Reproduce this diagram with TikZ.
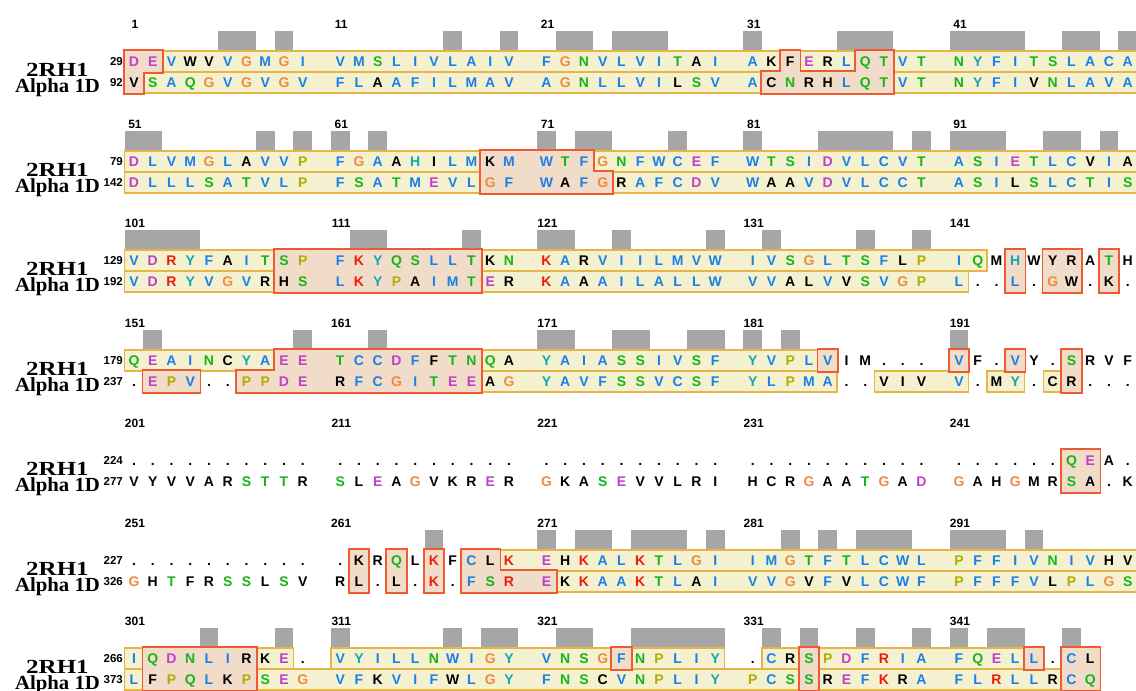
\documentclass[tikz,border=0pt]{standalone}
\usepackage{fontspec}
\setmainfont{Liberation Serif}
\setsansfont{Liberation Sans}
\definecolor{cb}{HTML}{1A7FE8}
\definecolor{cr}{HTML}{F01A0A}
\definecolor{cg}{HTML}{18B418}
\definecolor{cm}{HTML}{C040C8}
\definecolor{co}{HTML}{F08A40}
\definecolor{cy}{HTML}{B4AC00}
\definecolor{cc}{HTML}{14A8B0}
\definecolor{ck}{HTML}{000000}
\definecolor{yfill}{HTML}{F3F1CF}
\definecolor{yline}{HTML}{E8B446}
\definecolor{rfill}{HTML}{F0DCC8}
\definecolor{rline}{HTML}{F05A30}
\definecolor{barg}{HTML}{A6A6A6}
\pgfmathdeclarefunction{slotx}{1}{\pgfmathparse{134+18.75*((#1-1)+floor((#1-1)/10))}}
\tikzset{
  res/.style={inner sep=0pt,text height=10pt,text depth=0pt,font=\sffamily\bfseries\fontsize{14}{14}\selectfont},
  numlab/.style={inner sep=0pt,font=\sffamily\bfseries\fontsize{12}{12}\selectfont},
  startnum/.style={inner sep=0pt,anchor=east,text height=8pt,text depth=0pt,font=\sffamily\bfseries\fontsize{11.5}{11.5}\selectfont},
  namelab/.style={inner sep=0pt,anchor=base,align=center,font=\rmfamily\bfseries\fontsize{20}{16}\selectfont},
  ybox/.style={fill=yfill,draw=yline,line width=1.4pt},
  rout/.style={draw=rline,line width=3.4pt},
  rin/.style={fill=rfill},
  barbox/.style={fill=barg}
}
\newcommand\SeqRow[2]{%
  \foreach \ch/\cl [count=\i] in {#2}{%
    \pgfmathsetmacro\xx{slotx(\i)}%
    \node[res,text=c\cl] at (\xx,#1) {\ch};}}
\newcommand\Ylist[1]{%
  \foreach \yy/\aa/\bb in {#1}{%
    \pgfmathsetmacro\xa{slotx(\aa)-9.375}\pgfmathsetmacro\xb{slotx(\bb)+9.375}%
    \filldraw[ybox] (\xa,\yy-10.5) rectangle (\xb,\yy+10.5);}}
\newcommand\Rlist[1]{%
  \foreach \yy/\aa/\bb in {#1}{%
    \pgfmathsetmacro\xa{slotx(\aa)-9.375}\pgfmathsetmacro\xb{slotx(\bb)+9.375}%
    \draw[rout] (\xa,\yy-10.5) rectangle (\xb,\yy+10.5);}%
  \foreach \yy/\aa/\bb in {#1}{%
    \pgfmathsetmacro\xa{slotx(\aa)-9.375}\pgfmathsetmacro\xb{slotx(\bb)+9.375}%
    \fill[rin] (\xa,\yy-10.5) rectangle (\xb,\yy+10.5);}}
\newcommand\Bars[2]{%
  \foreach \aa/\bb in {#2}{%
    \pgfmathsetmacro\xa{slotx(\aa)-9.375}\pgfmathsetmacro\xb{slotx(\bb)+9.375}%
    \fill[barbox] (\xa,#1+9) rectangle (\xb,#1+29);}}
\newcommand\Labels[2]{%
  \foreach \p in {1,11,21,31,41}{%
    \pgfmathsetmacro\xx{slotx(\p)+1}\pgfmathtruncatemacro\nn{#2+\p-1}%
    \node[numlab] (lab#2-\p) at (\xx,#1+2) {\nn};}}
\newcommand\Names[4]{%
  \node[namelab] (names#2) at (57.5,#1+70.5) {\scalebox{1.25}[1]{2RH1}\\\scalebox{1.04}[1]{Alpha 1D}};
  \node[startnum] (sa#2) at (123,#1+39.5) {#3};
  \node[startnum] (sb#2) at (123,#1+60.5) {#4};
  \Labels{#1}{#2}}
\begin{document}
\begin{tikzpicture}[x=1pt,y=-1pt]
\useasboundingbox (0,0) rectangle (1136,691);
% ---------------- Block 1
\def\T{22}\pgfmathsetmacro\RA{\T+39.5}\pgfmathsetmacro\RB{\T+60.5}
\Bars{\T}{6/7,9/9,17/17,20/20,22/23,25/27,31/31,36/38,41/44,47/48,50/50}
\Ylist{\RA/3/32,\RA/34/36,\RA/39/50,\RB/2/31,\RB/39/50}
\Rlist{\RA/1/2,\RA/33/33,\RA/37/38,\RB/1/1,\RB/32/38}
\SeqRow{\RA}{D/m,E/m,V/b,W/k,V/k,V/b,G/o,M/b,G/o,I/b,
V/b,M/b,S/g,L/b,I/b,V/b,L/b,A/b,I/b,V/b,
F/b,G/o,N/g,V/b,L/b,V/b,I/b,T/g,A/k,I/b,
A/b,K/k,F/k,E/m,R/k,L/b,Q/g,T/g,V/b,T/g,
N/g,Y/c,F/b,I/b,T/g,S/g,L/b,A/b,C/b,A/b}
\SeqRow{\RB}{V/k,S/g,A/b,Q/g,G/o,V/b,G/o,V/b,G/o,V/b,
F/b,L/b,A/k,A/b,F/b,I/b,L/b,M/b,A/b,V/b,
A/b,G/o,N/g,L/b,L/b,V/b,I/b,L/k,S/g,V/b,
A/b,C/k,N/g,R/k,H/k,L/b,Q/g,T/g,V/b,T/g,
N/g,Y/c,F/b,I/b,V/k,N/g,L/b,A/b,V/b,A/b}
\Names{\T}{1}{29}{92}
% ---------------- Block 2
\def\T{122}\pgfmathsetmacro\RA{\T+39.5}\pgfmathsetmacro\RB{\T+60.5}
\Bars{\T}{1/2,8/8,10/10,11/11,13/13,21/21,23/24,28/28,31/31,35/38,40/40,41/43,46/47,49/49}
\Ylist{\RA/1/18,\RA/24/50,\RB/1/18,\RB/25/50}
\Rlist{\RA/19/23,\RB/19/24}
\SeqRow{\RA}{D/m,L/b,V/b,M/b,G/o,L/b,A/k,V/b,V/b,P/y,
F/b,G/o,A/b,A/k,H/c,I/k,L/b,M/b,K/k,M/b,
W/b,T/g,F/b,G/o,N/g,F/b,W/b,C/b,E/m,F/b,
W/b,T/g,S/g,I/b,D/m,V/b,L/b,C/b,V/b,T/g,
A/b,S/g,I/b,E/m,T/g,L/b,C/b,V/k,I/b,A/k}
\SeqRow{\RB}{D/m,L/b,L/b,L/b,S/g,A/b,T/g,V/b,L/b,P/y,
F/b,S/g,A/b,T/g,M/b,E/m,V/b,L/b,G/o,F/b,
W/b,A/k,F/b,G/o,R/k,A/b,F/b,C/b,D/m,V/b,
W/b,A/k,A/k,V/b,D/m,V/b,L/b,C/b,C/b,T/g,
A/b,S/g,I/b,L/k,S/g,L/b,C/b,T/g,I/b,S/g}
\Names{\T}{51}{79}{142}
% ---------------- Block 3
\def\T{221}\pgfmathsetmacro\RA{\T+39.5}\pgfmathsetmacro\RB{\T+60.5}
\Bars{\T}{1/4,12/13,18/18,21/22,25/25,30/30,32/32,37/37,40/40}
\Ylist{\RA/1/8,\RA/19/42,\RB/1/8,\RB/19/41}
\Rlist{\RA/9/18,\RB/9/18,\RA/44/44,\RB/44/44,\RA/46/47,\RB/46/47,\RA/49/49,\RB/49/49}
\SeqRow{\RA}{V/b,D/m,R/r,Y/c,F/b,A/k,I/b,T/g,S/g,P/y,
F/b,K/r,Y/c,Q/g,S/g,L/b,L/b,T/g,K/k,N/g,
K/r,A/b,R/k,V/b,I/b,I/b,L/b,M/b,V/b,W/b,
I/b,V/b,S/g,G/o,L/b,T/g,S/g,F/b,L/k,P/y,
I/b,Q/g,M/k,H/c,W/k,Y/k,R/k,A/k,T/g,H/k}
\SeqRow{\RB}{V/b,D/m,R/r,Y/c,V/b,G/o,V/b,R/k,H/k,S/g,
L/b,K/r,Y/c,P/y,A/k,I/b,M/b,T/g,E/m,R/k,
K/r,A/b,A/k,A/b,I/b,L/b,A/b,L/b,L/b,W/b,
V/b,V/b,A/k,L/k,V/b,V/k,S/g,V/b,G/o,P/y,
L/b,./k,./k,L/b,./k,G/o,W/k,./k,K/k,./k}
\Names{\T}{101}{129}{192}
% ---------------- Block 4
\def\T{321}\pgfmathsetmacro\RA{\T+39.5}\pgfmathsetmacro\RB{\T+60.5}
\Bars{\T}{2/2,10/10,13/13,21/22,25/26,29/30,31/31,33/33,41/41}
\Ylist{\RA/1/8,\RA/19/34,\RB/19/35,\RB/38/41,\RB/43/44,\RB/46/47}
\Rlist{\RA/9/18,\RB/7/18,\RB/2/4,\RA/35/35,\RA/41/41,\RA/44/44,\RA/47/47,\RB/47/47}
\SeqRow{\RA}{Q/g,E/m,A/b,I/b,N/g,C/k,Y/c,A/b,E/m,E/m,
T/g,C/b,C/b,D/m,F/b,F/k,T/g,N/g,Q/g,A/k,
Y/c,A/b,I/b,A/b,S/g,S/g,I/b,V/b,S/g,F/b,
Y/c,V/b,P/y,L/b,V/b,I/k,M/k,./k,./k,./k,
V/b,F/k,./k,V/b,Y/k,./k,S/g,R/k,V/k,F/k}
\SeqRow{\RB}{./k,E/m,P/y,V/b,./k,./k,P/y,P/y,D/m,E/m,
R/k,F/b,C/b,G/o,I/b,T/g,E/m,E/m,A/k,G/o,
Y/c,A/b,V/b,F/b,S/g,S/g,V/b,C/b,S/g,F/b,
Y/c,L/b,P/y,M/b,A/b,./k,./k,V/k,I/k,V/k,
V/b,./k,M/k,Y/c,./k,C/k,R/k,./k,./k,./k}
\Names{\T}{151}{179}{237}
% ---------------- Block 5
\def\T{421}\pgfmathsetmacro\RA{\T+39.5}\pgfmathsetmacro\RB{\T+60.5}
\Rlist{\RA/47/48,\RB/47/48}
\SeqRow{\RA}{./k,./k,./k,./k,./k,./k,./k,./k,./k,./k,
./k,./k,./k,./k,./k,./k,./k,./k,./k,./k,
./k,./k,./k,./k,./k,./k,./k,./k,./k,./k,
./k,./k,./k,./k,./k,./k,./k,./k,./k,./k,
./k,./k,./k,./k,./k,./k,Q/g,E/m,A/k,./k}
\SeqRow{\RB}{V/k,Y/k,V/k,V/k,A/k,R/k,S/g,T/g,T/g,R/k,
S/g,L/k,E/m,A/k,G/o,V/k,K/k,R/k,E/m,R/k,
G/o,K/k,A/k,S/g,E/m,V/k,V/k,L/k,R/k,I/k,
H/k,C/k,R/k,G/o,A/k,A/k,T/g,G/o,A/k,D/m,
G/o,A/k,H/k,G/o,M/k,R/k,S/g,A/k,./k,K/k}
\Names{\T}{201}{224}{277}
% ---------------- Block 6
\def\T{521}\pgfmathsetmacro\RA{\T+39.5}\pgfmathsetmacro\RB{\T+60.5}
\Bars{\T}{16/16,21/21,23/24,26/28,30/30,33/33,35/35,37/39,41/43,45/45}
\Ylist{\RA/20/50,\RB/22/50}
\Rlist{\RA/12/12,\RB/12/12,\RA/14/14,\RB/14/14,\RA/16/16,\RB/16/16,\RA/18/19,\RB/18/21}
\SeqRow{\RA}{./k,./k,./k,./k,./k,./k,./k,./k,./k,./k,
./k,K/k,R/k,Q/g,L/k,K/r,F/k,C/b,L/k,K/r,
E/m,H/k,K/r,A/b,L/b,K/r,T/g,L/b,G/o,I/b,
I/b,M/b,G/o,T/g,F/b,T/g,L/b,C/b,W/b,L/b,
P/y,F/b,F/b,I/b,V/b,N/g,I/b,V/b,H/k,V/k}
\SeqRow{\RB}{G/o,H/k,T/g,F/k,R/k,S/g,S/g,L/k,S/g,V/k,
R/k,L/k,./k,L/k,./k,K/r,./k,F/b,S/g,R/r,
E/m,K/k,K/r,A/b,A/b,K/r,T/g,L/b,A/k,I/b,
V/b,V/b,G/o,V/k,F/b,V/k,L/b,C/b,W/b,F/b,
P/y,F/b,F/b,F/b,V/b,L/k,P/y,L/b,G/o,S/g}
\Names{\T}{251}{227}{326}
% ---------------- Block 7
\def\T{619}\pgfmathsetmacro\RA{\T+39.5}\pgfmathsetmacro\RB{\T+60.5}
\Bars{\T}{5/5,9/9,11/11,17/17,19/20,22/23,26/30,32/32,34/34,37/37,40/40,41/41,43/44,47/47}
\Ylist{\RA/1/1,\RA/8/9,\RA/11/24,\RA/26/30,\RA/32/33,\RA/35/44,\RB/1/1,\RB/8/33,\RB/35/46}
\Rlist{\RA/2/7,\RB/2/7,\RA/25/25,\RA/34/34,\RB/34/34,\RA/45/45,\RA/47/48,\RB/47/48}
\SeqRow{\RA}{I/b,Q/g,D/m,N/g,L/b,I/b,R/k,K/k,E/m,./k,
V/b,Y/c,I/b,L/b,L/b,N/g,W/b,I/b,G/o,Y/c,
V/b,N/g,S/g,G/o,F/b,N/g,P/y,L/b,I/b,Y/c,
./k,C/b,R/k,S/g,P/y,D/m,F/b,R/r,I/b,A/b,
F/b,Q/g,E/m,L/b,L/b,./k,C/b,L/k}
\SeqRow{\RB}{L/b,F/k,P/y,Q/g,L/b,K/k,P/y,S/g,E/m,G/o,
V/b,F/b,K/k,V/b,I/b,F/b,W/k,L/b,G/o,Y/c,
F/b,N/g,S/g,C/k,V/b,N/g,P/y,L/b,I/b,Y/c,
P/y,C/b,S/g,S/g,R/k,E/m,F/b,K/r,R/k,A/b,
F/b,L/b,R/r,L/b,L/b,R/k,C/b,Q/g}
\Names{\T}{301}{266}{373}
\end{tikzpicture}
\end{document}
